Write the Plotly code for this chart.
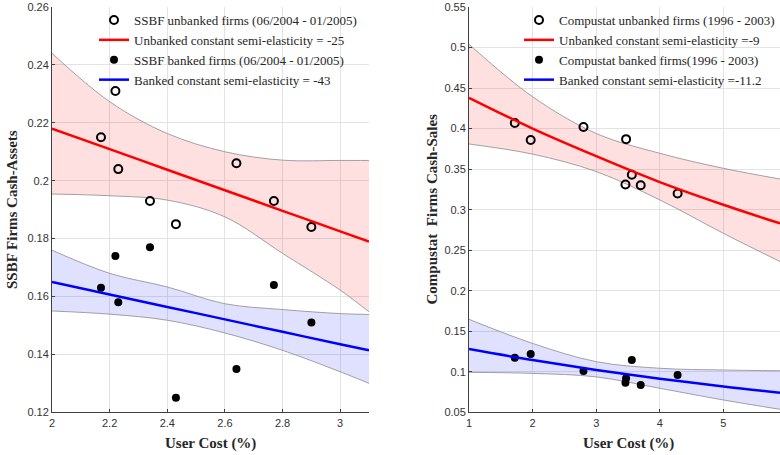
import plotly.graph_objects as go

# ---------------- Data ----------------
# Left panel: SSBF
ssbf_cost = [2.17, 2.22, 2.23, 2.34, 2.43, 2.64, 2.77, 2.90]
ssbf_unbanked = [0.215, 0.231, 0.204, 0.193, 0.185, 0.206, 0.193, 0.184]
ssbf_banked = [0.163, 0.174, 0.158, 0.177, 0.125, 0.135, 0.164, 0.151]

ssbf_grid = [2.0, 2.2, 2.4, 2.6, 2.8, 3.0, 3.1]
ssbf_unb_fit = [0.218, 0.2109, 0.2038, 0.1967, 0.1896, 0.1825, 0.179]
ssbf_unb_hi = [0.244, 0.2273, 0.2163, 0.2100, 0.2071, 0.2070, 0.2070]
ssbf_unb_lo = [0.1954, 0.1948, 0.1933, 0.1875, 0.1749, 0.1622, 0.1547]
ssbf_bnk_fit = [0.165, 0.1607, 0.1564, 0.1521, 0.1478, 0.1435, 0.1414]
ssbf_bnk_hi = [0.176, 0.168, 0.1633, 0.1575, 0.1555, 0.1541, 0.1538]
ssbf_bnk_lo = [0.155, 0.1539, 0.1518, 0.1474, 0.1414, 0.134, 0.130]

# Right panel: Compustat
comp_cost = [1.72, 1.97, 2.80, 3.47, 3.46, 3.56, 3.70, 4.28]
comp_unbanked = [0.407, 0.386, 0.402, 0.387, 0.331, 0.343, 0.330, 0.320]
comp_banked = [0.1173, 0.122, 0.101, 0.092, 0.0865, 0.1145, 0.0837, 0.096]

comp_grid = [1.0, 2.0, 3.0, 4.0, 5.0, 5.89]
comp_unb_fit = [0.438, 0.400, 0.366, 0.334, 0.306, 0.283]
comp_unb_hi = [0.504, 0.4393, 0.394, 0.3695, 0.351, 0.3378]
comp_unb_lo = [0.381, 0.3685, 0.347, 0.312, 0.2708, 0.236]
comp_bnk_fit = [0.128, 0.1144, 0.1023, 0.0915, 0.0818, 0.0742]
comp_bnk_hi = [0.1647, 0.135, 0.1125, 0.1043, 0.1022, 0.1013]
comp_bnk_lo = [0.0993, 0.098, 0.0937, 0.0796, 0.0652, 0.0537]

left_xticks = [2, 2.2, 2.4, 2.6, 2.8, 3]
left_xlabels = ["2", "2.2", "2.4", "2.6", "2.8", "3"]
left_yticks = [0.12, 0.14, 0.16, 0.18, 0.20, 0.22, 0.24, 0.26]
left_ylabels = ["0.12", "0.14", "0.16", "0.18", "0.2", "0.22", "0.24", "0.26"]
right_xticks = [1, 2, 3, 4, 5, 6]
right_xlabels = ["1", "2", "3", "4", "5", "6"]
right_yticks = [0.05, 0.10, 0.15, 0.20, 0.25, 0.30, 0.35, 0.40, 0.45, 0.50, 0.55]
right_ylabels = ["0.05", "0.1", "0.15", "0.2", "0.25", "0.3", "0.35", "0.4", "0.45", "0.5", "0.55"]

# ---------------- Styles ----------------
W, H = 780, 455
RED_FILL = "rgba(255,0,0,0.12)"
BLUE_FILL = "rgba(0,0,255,0.12)"
EDGE = dict(color="#8c8c8c", width=0.8, shape="spline")
TXT = "#262626"

fig = go.Figure()


def add_band(x, hi, lo, fill, xa, ya):
    fig.add_trace(go.Scatter(x=x, y=hi, mode="lines", line=EDGE, showlegend=False,
                             hoverinfo="skip", xaxis=xa, yaxis=ya))
    fig.add_trace(go.Scatter(x=x, y=lo, mode="lines", line=EDGE, fill="tonexty",
                             fillcolor=fill, showlegend=False, hoverinfo="skip",
                             xaxis=xa, yaxis=ya))


def add_panel(xa, ya, leg, grid, u_hi, u_lo, u_fit, b_hi, b_lo, b_fit,
              cost, unb, bnk, names):
    add_band(grid, u_hi, u_lo, RED_FILL, xa, ya)
    add_band(grid, b_hi, b_lo, BLUE_FILL, xa, ya)
    fig.add_trace(go.Scatter(x=cost, y=unb, mode="markers", name=names[0],
                             marker=dict(symbol="circle-open", size=8, color="black",
                                         line=dict(width=2, color="black")),
                             xaxis=xa, yaxis=ya, legend=leg))
    fig.add_trace(go.Scatter(x=grid, y=u_fit, mode="lines", name=names[1],
                             line=dict(color="#ff0000", width=2.5, shape="spline"),
                             xaxis=xa, yaxis=ya, legend=leg))
    fig.add_trace(go.Scatter(x=cost, y=bnk, mode="markers", name=names[2],
                             marker=dict(symbol="circle", size=8, color="black"),
                             xaxis=xa, yaxis=ya, legend=leg))
    fig.add_trace(go.Scatter(x=grid, y=b_fit, mode="lines", name=names[3],
                             line=dict(color="#0000ff", width=2.5, shape="spline"),
                             xaxis=xa, yaxis=ya, legend=leg))


add_panel("x", "y", "legend", ssbf_grid, ssbf_unb_hi, ssbf_unb_lo, ssbf_unb_fit,
          ssbf_bnk_hi, ssbf_bnk_lo, ssbf_bnk_fit, ssbf_cost, ssbf_unbanked, ssbf_banked,
          ["SSBF unbanked firms (06/2004 - 01/2005)",
           "Unbanked constant semi-elasticity = -25",
           "SSBF banked firms (06/2004 - 01/2005)",
           "Banked constant semi-elasticity = -43"])
add_panel("x2", "y2", "legend2", comp_grid, comp_unb_hi, comp_unb_lo, comp_unb_fit,
          comp_bnk_hi, comp_bnk_lo, comp_bnk_fit, comp_cost, comp_unbanked, comp_banked,
          ["Compustat unbanked firms (1996 - 2003)",
           "Unbanked constant semi-elasticity =-9",
           "Compustat banked firms(1996 - 2003)",
           "Banked constant semi-elasticity =-11.2"])

ydom = [1 - 412.3 / H, 1 - 7 / H]
axis_common = dict(showline=True, linecolor="#404040", linewidth=1, mirror=False,
                   ticks="inside", ticklen=3, tickcolor="#404040", showgrid=True,
                   gridcolor="#e3e3e3", gridwidth=1, zeroline=False, automargin=False,
                   tickfont=dict(family="Liberation Sans, Arial", size=11, color="#333333"))

leg_font = dict(family="Liberation Serif, Times New Roman", size=13, color=TXT)

fig.update_layout(
    width=W, height=H,
    margin=dict(l=0, r=0, t=0, b=0),
    paper_bgcolor="white", plot_bgcolor="white",
    xaxis=dict(domain=[52 / W, 369 / W], range=[2, 3.1], tickvals=left_xticks,
               ticktext=left_xlabels, anchor="y", **axis_common),
    yaxis=dict(domain=ydom, range=[0.12, 0.26], tickvals=left_yticks,
               ticktext=left_ylabels, anchor="x", **axis_common),
    xaxis2=dict(domain=[469 / W, 1.0], range=[1, 5.89], tickvals=right_xticks,
                ticktext=right_xlabels, anchor="y2", **axis_common),
    yaxis2=dict(domain=ydom, range=[0.05, 0.55], tickvals=right_yticks,
                ticktext=right_ylabels, anchor="x2", **axis_common),
    legend=dict(x=94 / W, y=1 - 5 / H, xanchor="left", yanchor="top",
                bgcolor="rgba(0,0,0,0)", font=leg_font, tracegroupgap=0,
                itemwidth=30, traceorder="normal"),
    legend2=dict(x=519 / W, y=1 - 5 / H, xanchor="left", yanchor="top",
                 bgcolor="rgba(0,0,0,0)", font=leg_font, tracegroupgap=0,
                 itemwidth=30, traceorder="normal"),
    showlegend=True,
)

title_font = dict(family="Liberation Serif, Times New Roman", size=15, color=TXT)
annots = [
    dict(text="<b>SSBF Firms Cash-Assets</b>", x=12.5 / W, y=1 - 209.5 / H, textangle=-90),
    dict(text="<b>Compustat  Firms Cash-Sales</b>", x=432 / W, y=1 - 209.5 / H, textangle=-90),
    dict(text="<b>User Cost (%)</b>", x=210.5 / W, y=1 - 443 / H, textangle=0),
    dict(text="<b>User Cost (%)</b>", x=628.5 / W, y=1 - 443 / H, textangle=0),
]
for a in annots:
    fig.add_annotation(xref="paper", yref="paper", showarrow=False, font=title_font,
                       xanchor="center", yanchor="middle", **a)

fig.write_html("out.html", config={"displayModeBar": False},
               post_script="document.body.style.margin='0';document.body.style.overflow='hidden';")
